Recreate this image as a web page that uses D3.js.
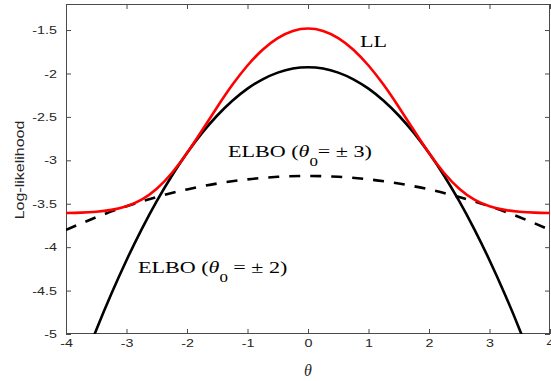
<!DOCTYPE html>
<html>
<head>
<meta charset="utf-8">
<script src="https://cdn.jsdelivr.net/npm/d3@7"></script>
<style>
  body { margin: 0; background: #fff; }
</style>
</head>
<body>
<div id="chart"></div>
<script>
// data
var thetaLL = [-4, -3.75, -3.5, -3.25, -3, -2.75, -2.5, -2.25, -2, -1.75, -1.5, -1.25, -1, -0.75, -0.5, -0.25,
  0, 0.25, 0.5, 0.75, 1, 1.25, 1.5, 1.75, 2, 2.25, 2.5, 2.75, 3, 3.25, 3.5, 3.75, 4];
var llValues = [-3.606, -3.602, -3.592, -3.571, -3.529, -3.453, -3.327, -3.146, -2.916, -2.654, -2.386, -2.131,
  -1.908, -1.726, -1.592, -1.510, -1.482, -1.510, -1.592, -1.726, -1.908, -2.131, -2.386, -2.654, -2.916,
  -3.146, -3.327, -3.453, -3.529, -3.571, -3.592, -3.602, -3.606];

var thetaElbo2 = [-3.75, -3.5, -3.25, -3, -2.75, -2.5, -2.25, -2, -1.75, -1.5, -1.25, -1, -0.75, -0.5, -0.25,
  0, 0.25, 0.5, 0.75, 1, 1.25, 1.5, 1.75, 2, 2.25, 2.5, 2.75, 3, 3.25, 3.5, 3.75];
var elbo2Values = [-5.400, -4.953, -4.536, -4.150, -3.795, -3.471, -3.178, -2.916, -2.684, -2.484, -2.314,
  -2.175, -2.067, -1.990, -1.943, -1.928, -1.943, -1.990, -2.067, -2.175, -2.314, -2.484, -2.684, -2.916,
  -3.178, -3.471, -3.795, -4.150, -4.536, -4.953, -5.400];

var thetaElbo3 = [-4, -3.5, -3, -2.5, -2, -1.5, -1, -0.5, 0, 0.5, 1, 1.5, 2, 2.5, 3, 3.5, 4];
var elbo3Values = [-3.801, -3.656, -3.529, -3.423, -3.335, -3.267, -3.219, -3.190, -3.180, -3.190, -3.219,
  -3.267, -3.335, -3.423, -3.529, -3.656, -3.801];

var xTicks = [-4, -3, -2, -1, 0, 1, 2, 3, 4];
var yTicks = [-5, -4.5, -4, -3.5, -3, -2.5, -2, -1.5];

var svgWidth = 551;
var svgHeight = 381;
var plotLeft = 66, plotTop = 4, plotRight = 550, plotBottom = 334;
var stretch = 1.3;

var svg = d3.select("#chart")
  .append("svg")
  .attr("width", svgWidth)
  .attr("height", svgHeight);

var xScale = d3.scaleLinear().domain([-4, 4]).range([plotLeft, plotRight]);
var yScale = d3.scaleLinear().domain([-5, -1.2]).range([plotBottom, plotTop]);

svg.append("clipPath").attr("id", "plotClip")
  .append("rect")
  .attr("x", plotLeft).attr("y", plotTop)
  .attr("width", plotRight - plotLeft).attr("height", plotBottom - plotTop);

// axes (MATLAB style, ticks pointing inward, box all round)
var axisColor = "#4a4a4a";
var textColor = "#262626";

function styleAxis(g) {
  g.select(".domain").remove();
  g.selectAll(".tick line").attr("stroke", axisColor);
  g.selectAll(".tick text")
    .attr("fill", textColor)
    .attr("font-family", "'Liberation Sans', Arial, sans-serif")
    .attr("font-size", 11)
    .attr("transform", "scale(" + stretch + ",1)");
}

svg.append("g")
  .attr("transform", "translate(0," + plotBottom + ")")
  .call(d3.axisBottom(xScale).tickValues(xTicks).tickSize(-5).tickPadding(5).tickFormat(function(d) { return String(d); }))
  .call(styleAxis);

svg.append("g")
  .attr("transform", "translate(" + plotLeft + ",0)")
  .call(d3.axisLeft(yScale).tickValues(yTicks).tickSize(-5).tickPadding(7).tickFormat(function(d) { return String(d); }))
  .call(styleAxis);

svg.append("g")
  .attr("transform", "translate(0," + plotTop + ")")
  .call(d3.axisTop(xScale).tickValues(xTicks).tickSize(-5).tickFormat(""))
  .call(styleAxis);

svg.append("g")
  .attr("transform", "translate(" + plotRight + ",0)")
  .call(d3.axisRight(yScale).tickValues(yTicks).tickSize(-5).tickFormat(""))
  .call(styleAxis);

svg.append("rect")
  .attr("x", plotLeft + 0.5).attr("y", plotTop + 0.5)
  .attr("width", plotRight - plotLeft - 1).attr("height", plotBottom - plotTop - 1)
  .attr("fill", "none")
  .attr("stroke", axisColor)
  .attr("stroke-width", 1);

// curves
function drawCurve(xs, ys, color, dash) {
  var pts = xs.map(function(x, i) { return [x, ys[i]]; });
  var line = d3.line()
    .x(function(d) { return xScale(d[0]); })
    .y(function(d) { return yScale(d[1]); })
    .curve(d3.curveNatural);
  svg.append("path")
    .datum(pts)
    .attr("d", line)
    .attr("clip-path", "url(#plotClip)")
    .attr("fill", "none")
    .attr("stroke", color)
    .attr("stroke-width", 2.6)
    .attr("stroke-dasharray", dash || null);
}

drawCurve(thetaElbo3, elbo3Values, "#000", "11,10");
drawCurve(thetaElbo2, elbo2Values, "#000");
drawCurve(thetaLL, llValues, "#ff0000");

// axis titles
svg.append("text")
  .attr("transform", "translate(24,170) rotate(-90) scale(" + stretch + ",1)")
  .attr("text-anchor", "middle")
  .attr("font-family", "'Liberation Sans', Arial, sans-serif")
  .attr("font-size", 12.3)
  .attr("fill", textColor)
  .text("Log-likelihood");

svg.append("text")
  .attr("x", (plotLeft + plotRight) / 2)
  .attr("y", 376)
  .attr("text-anchor", "middle")
  .attr("font-family", "'Liberation Serif', 'Times New Roman', serif")
  .attr("font-style", "italic")
  .attr("font-size", 16)
  .attr("fill", textColor)
  .text("θ");

// curve labels
var serif = "'Liberation Serif', 'Times New Roman', serif";

svg.append("text")
  .attr("transform", "translate(360,46.7) scale(" + stretch + ",1)")
  .attr("font-family", serif)
  .attr("font-size", 17)
  .text("LL");

function elboLabel(x, y, rest) {
  var t = svg.append("text")
    .attr("transform", "translate(" + x + "," + y + ") scale(" + stretch + ",1)")
    .attr("font-family", serif)
    .attr("font-size", 17);
  t.append("tspan").text("ELBO (");
  t.append("tspan").attr("font-style", "italic").text("θ");
  t.append("tspan").attr("font-size", 13).attr("dy", 8.5).text("0");
  t.append("tspan").attr("dy", -8.5).text(rest);
}

elboLabel(228, 157, "= ± 3)");
elboLabel(138, 273, " = ± 2)");
</script>
</body>
</html>
